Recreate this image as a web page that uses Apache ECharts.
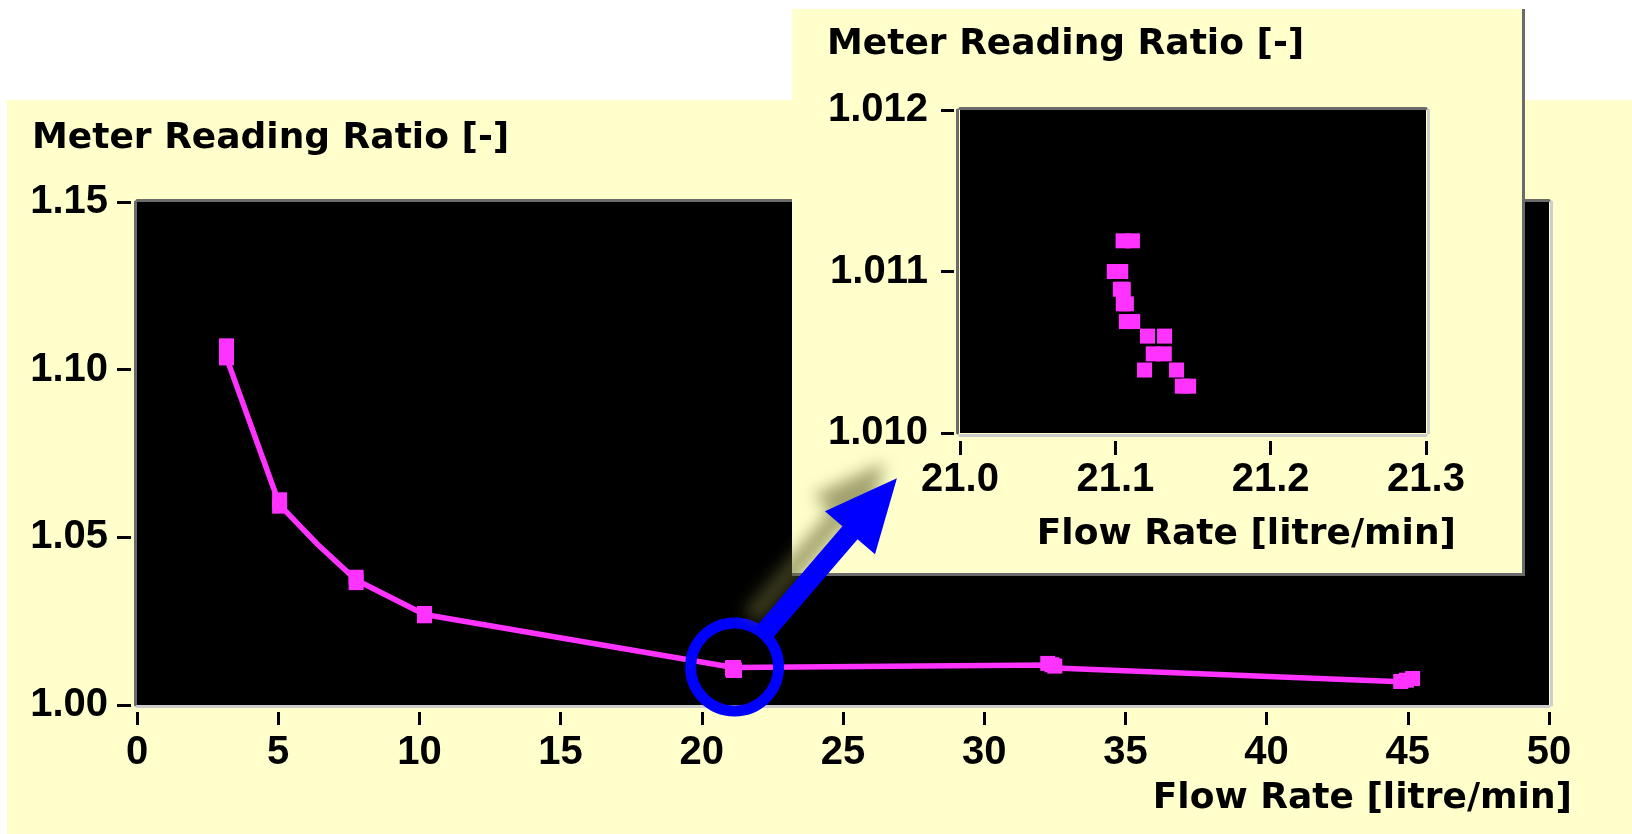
<!DOCTYPE html>
<html><head><meta charset="utf-8">
<script src="https://cdn.jsdelivr.net/npm/echarts@6/dist/echarts.min.js"></script>
<style>html,body{margin:0;padding:0;background:#fff;}#c{width:1632px;height:834px;}</style>
</head><body><div id="c"></div>
<script>
// ---- tick values ----
const mainXTicks = [0, 5, 10, 15, 20, 25, 30, 35, 40, 45, 50];
const mainYTicks = [1.00, 1.05, 1.10, 1.15];
const zoomXTicks = [21.0, 21.1, 21.2, 21.3];
const zoomYTicks = [1.010, 1.011, 1.012];

// ---- main curve (connecting line) ----
const curveX = [3.17, 5.05, 6.37, 7.76, 10.18, 21.12, 32.27, 32.52, 44.75];
const curveY = [1.1035, 1.0597, 1.0481, 1.0373, 1.0270, 1.0112, 1.0119, 1.0110, 1.0069];

// ---- main markers (besides the 21 litre/min cluster) ----
const markerX = [3.17, 3.17, 5.05, 5.05, 7.76, 7.76, 10.18, 10.18, 32.25, 32.40, 32.50, 44.75, 44.95, 45.17];
const markerY = [1.1071, 1.1035, 1.0612, 1.0593, 1.0381, 1.0365, 1.0273, 1.0266, 1.0124, 1.0120, 1.0116, 1.0070, 1.0074, 1.0079];

// ---- zoomed cluster near 21.1 litre/min ----
const zoomX = [21.105, 21.111, 21.0993, 21.1035, 21.1032, 21.1051, 21.1051, 21.1071, 21.1071, 21.1112,
               21.1207, 21.1317, 21.1244, 21.1315, 21.1188, 21.1394, 21.1431, 21.1472];
const zoomY = [1.01119, 1.01119, 1.01100, 1.01100, 1.01089, 1.01089, 1.01080, 1.01080, 1.01069, 1.01069,
               1.01060, 1.01060, 1.01049, 1.01049, 1.01039, 1.01039, 1.01029, 1.01029];

// ---- annotation anchors (data coordinates) ----
const circleCenter = [21.16, 1.01133];   // main chart
const arrowTip = [20.9594, 1.00972];     // inset chart

const yTitle = 'Meter Reading Ratio [-]';
const xTitle = 'Flow Rate [litre/min]';

const MAG = '#ff33ff', DARK = '#6b6b6b', LIGHT = '#cdcdcd', YEL = '#ffffcc';
const tickFont = {fontFamily: 'Liberation Sans', fontWeight: 'bold', fontSize: 40, color: '#000'};
const titleFont = 'bold 36px "DejaVu Sans"';

const pairs = (xs, ys) => xs.map((x, i) => [x, ys[i]]);
const span = t => ({min: t[0], max: t[t.length - 1], interval: +(t[1] - t[0]).toFixed(6)});

function borderAxis(gridIndex, position, offset, color, ticks, zlevel) {
  const s = span(ticks);
  return {type: 'value', gridIndex, position, offset, min: s.min, max: s.max, zlevel, z: 1,
    axisLine: {show: true, onZero: false, lineStyle: {color, width: 3}},
    axisTick: {show: false}, axisLabel: {show: false}, splitLine: {show: false}};
}
function labelAxis(gridIndex, position, offset, ticks, len, margin, decimals, zlevel) {
  const s = span(ticks);
  return {type: 'value', gridIndex, position, offset, min: s.min, max: s.max, interval: s.interval, zlevel, z: 1,
    axisLine: {show: false, onZero: false},
    axisTick: {show: true, length: len, lineStyle: {color: '#000', width: 3}},
    axisLabel: Object.assign({margin, showMinLabel: true, showMaxLabel: true,
      formatter: v => (+v).toFixed(decimals)}, tickFont),
    splitLine: {show: false}};
}

const chart = echarts.init(document.getElementById('c'), null, {renderer: 'canvas'});
chart.setOption({
  animation: false,
  grid: [
    {left: 137, top: 202, width: 1412, height: 503, show: true, backgroundColor: '#000', borderWidth: 0,
     containLabel: false, outerBoundsMode: 'none', zlevel: 0, z: 0},
    {left: 960, top: 110, width: 466, height: 323, show: true, backgroundColor: '#000', borderWidth: 0,
     containLabel: false, outerBoundsMode: 'none', zlevel: 1, z: 0}
  ],
  xAxis: [
    labelAxis(0, 'bottom', 7, mainXTicks, 13, 21, 0, 0),
    borderAxis(0, 'top', 1.5, DARK, mainXTicks, 0),
    borderAxis(0, 'bottom', 1.5, LIGHT, mainXTicks, 0),
    labelAxis(1, 'bottom', 8, zoomXTicks, 14, 19, 1, 1),
    borderAxis(1, 'top', 1.5, DARK, zoomXTicks, 1),
    borderAxis(1, 'bottom', 2, LIGHT, zoomXTicks, 1)
  ],
  yAxis: [
    labelAxis(0, 'left', 6, mainYTicks, 14, 23, 2, 0),
    borderAxis(0, 'left', 2, DARK, mainYTicks, 0),
    borderAxis(0, 'right', 2.5, LIGHT, mainYTicks, 0),
    labelAxis(1, 'left', 6, zoomYTicks, 13, 26, 3, 1),
    borderAxis(1, 'left', 2.5, DARK, zoomYTicks, 1),
    borderAxis(1, 'right', 2.5, LIGHT, zoomYTicks, 1)
  ],
  series: [
    {type: 'line', xAxisIndex: 0, yAxisIndex: 0, data: pairs(curveX, curveY), symbol: 'none',
     lineStyle: {color: MAG, width: 5.5}, zlevel: 0, z: 2, silent: true},
    {type: 'scatter', xAxisIndex: 0, yAxisIndex: 0, data: pairs(markerX, markerY).concat(pairs(zoomX, zoomY)),
     symbol: 'rect', symbolSize: 15, itemStyle: {color: MAG, opacity: 1}, zlevel: 0, z: 3, silent: true},
    {type: 'scatter', xAxisIndex: 0, yAxisIndex: 0, data: [circleCenter], symbol: 'circle', symbolSize: 88,
     itemStyle: {color: 'rgba(0,0,0,0)', borderColor: '#0000ff', borderWidth: 11, opacity: 1},
     zlevel: 0, z: 4, silent: true},
    {type: 'scatter', xAxisIndex: 3, yAxisIndex: 3, data: pairs(zoomX, zoomY),
     symbol: 'rect', symbolSize: 15, itemStyle: {color: MAG, opacity: 1}, zlevel: 1, z: 3, silent: true}
  ]
});

// ---- arrow from circle to inset, derived from the axes ----
const c = chart.convertToPixel({seriesIndex: 2}, circleCenter);
const t = chart.convertToPixel({seriesIndex: 3}, arrowTip);
const dx = t[0] - c[0], dy = t[1] - c[1], L = Math.hypot(dx, dy);
const u = [dx / L, dy / L], n = [-u[1], u[0]];
const P = (base, a, b) => [base[0] + u[0] * a + n[0] * b, base[1] + u[1] * a + n[1] * b];
const headLen = 72, headHalf = 33, shaftHalf = 10, startR = 44;
const arrowPts = [
  t,
  P(t, -headLen, headHalf), P(t, -headLen, shaftHalf),
  P(c, startR, shaftHalf), P(c, startR, -shaftHalf),
  P(t, -headLen, -shaftHalf), P(t, -headLen, -headHalf)
];

function txt(x, y, text, align, zlevel) {
  return {type: 'text', zlevel, z: 10, silent: true,
    style: {x, y, text, font: titleFont, fill: '#000', align, verticalAlign: 'middle',
            textAlign: align, textVerticalAlign: 'middle'}};
}

chart.setOption({
  graphic: [
    {type: 'rect', zlevel: 0, z: -10, silent: true, shape: {x: 7, y: 100, width: 1625, height: 734}, style: {fill: YEL}},
    txt(32, 139, yTitle, 'left', 0),
    txt(1572, 799, xTitle, 'right', 0),
    {type: 'rect', zlevel: 1, z: -10, silent: true, shape: {x: 792, y: 9, width: 733, height: 567}, style: {fill: YEL}},
    {type: 'rect', zlevel: 1, z: -9, silent: true, shape: {x: 1522, y: 9, width: 3, height: 567}, style: {fill: DARK}},
    {type: 'rect', zlevel: 1, z: -9, silent: true, shape: {x: 792, y: 573, width: 733, height: 3}, style: {fill: DARK}},
    txt(827, 45, yTitle, 'left', 1),
    txt(1456, 535, xTitle, 'right', 1),
    {type: 'polygon', zlevel: 2, z: 10, silent: true, shape: {points: arrowPts},
     style: {fill: '#0000ff', shadowBlur: 16, shadowColor: 'rgba(100,100,50,0.6)', shadowOffsetX: -12, shadowOffsetY: -16}}
  ]
});
</script>
</body></html>
